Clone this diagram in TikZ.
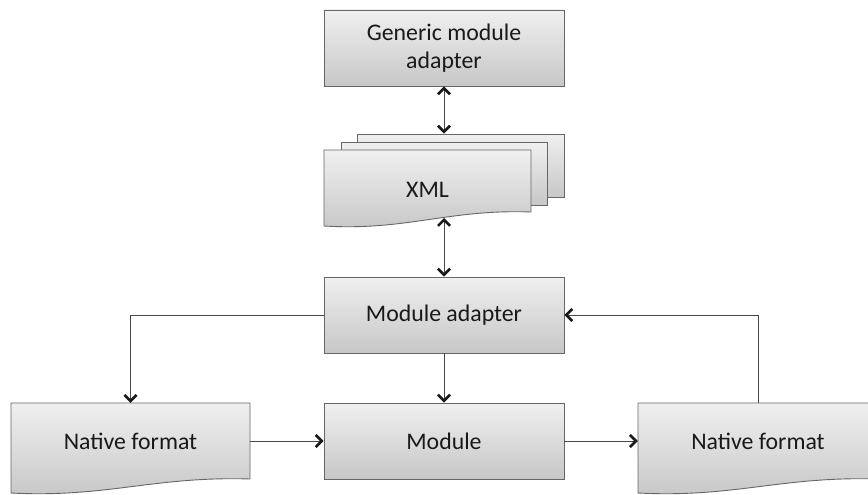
\documentclass[tikz,border=0pt]{standalone}
\usepackage{fontspec}
\setmainfont{Carlito}
\usetikzlibrary{arrows.meta}

\tikzset{
    box/.style={draw=black!60, line width=0.9pt, top color=black!6, bottom color=black!22,
        minimum width=240pt, minimum height=76pt, align=center, text=black!90},
    doclabel/.style={minimum width=207pt, minimum height=76pt, text=black!90},
    docfill/.style={draw=black!60, line width=0.9pt, top color=black!6, bottom color=black!22},
    link/.style={draw=black!72, line width=0.9pt},
}

% page with a wavy lower edge: left, right, top, bottom (left corner)
\newcommand\docshape[4]{%
    \path[docfill] (#1,#3) -- (#2,#3) -- (#2,#4-14)
        .. controls ({#1+0.6*(#2-#1)},#4-17) and ({#1+0.4*(#2-#1)},#4+5) .. (#1,#4) -- cycle;}

\begin{document}
\begin{tikzpicture}[x=1pt, y=-1pt,
        >={Straight Barb[length=6pt,width=12pt,line width=2.6pt,color=black!90]},
        font=\fontsize{23.8}{28.5}\selectfont]

    \useasboundingbox (0,0) rectangle (868,495);

    \node[box] (gen) at (444,48) {Generic module\\adapter};

    % stacked xml pages
    \node[box, minimum width=207pt, minimum height=63pt] (xmlC) at (460.5,165.5) {};
    \node[box, minimum width=206pt, minimum height=63pt] (xmlB) at (444,173.5) {};
    \docshape{324}{531}{150}{226}
    \node[doclabel] (xml) at (427.5,190) {XML};
    \coordinate (xmlbot) at (444,218);

    \node[box] (madapt) at (444,315) {Module adapter};
    \node[box] (mod) at (444,441) {Module};

    \docshape{11}{250}{403}{493}
    \node[doclabel, minimum width=239pt] (natL) at (130.5,441) {Native format};
    \docshape{638}{878}{403}{493}
    \node[doclabel, minimum width=240pt] (natR) at (758,441) {Native format};

    \draw[link, <->] (gen.south) -- (gen.south |- xmlC.north);
    \draw[link, <->] (xmlbot) -- (madapt.north);
    \draw[link, ->] (madapt.west) -| (natL.north);
    \draw[link, ->] (madapt.south) -- (mod.north);
    \draw[link, ->] (natL.east) -- (mod.west);
    \draw[link, ->] (mod.east) -- (natR.west);
    \draw[link, ->] (natR.north) |- (madapt.east);

\end{tikzpicture}
\end{document}
